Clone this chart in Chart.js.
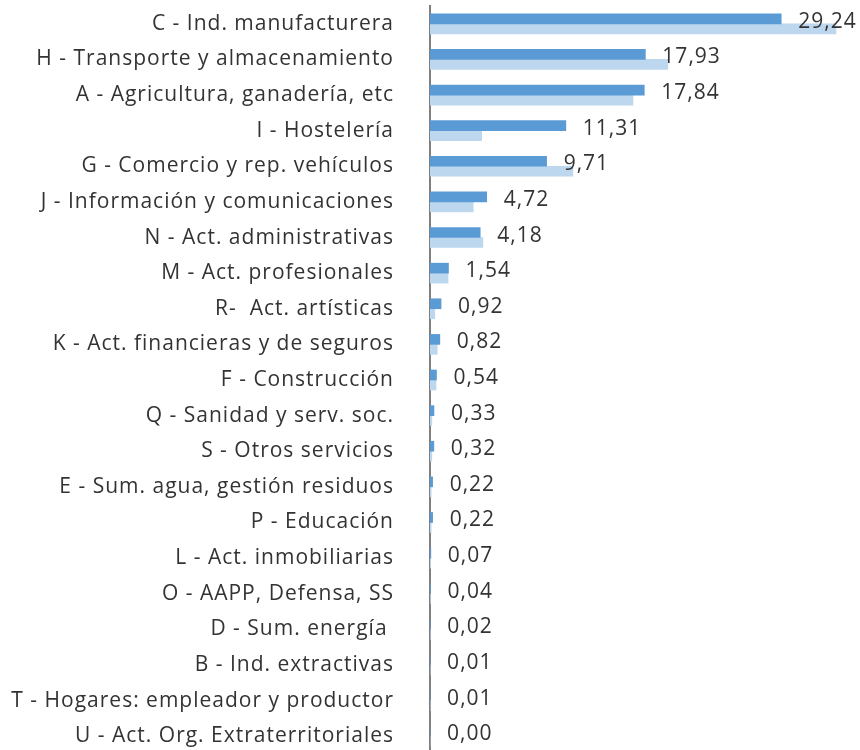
<!DOCTYPE html>
<html><head><meta charset="utf-8">
<script src="https://cdn.jsdelivr.net/npm/chart.js@4.4.0/dist/chart.umd.min.js"></script>
<style>html,body{margin:0;padding:0;background:#fff;overflow:hidden}canvas{display:block}</style>
</head><body>
<canvas id="c" width="860" height="756"></canvas>
<script>
const categories = [
  "C - Ind. manufacturera",
  "H - Transporte y almacenamiento",
  "A - Agricultura, ganadería, etc",
  "I - Hostelería",
  "G - Comercio y rep. vehículos",
  "J - Información y comunicaciones",
  "N - Act. administrativas",
  "M - Act. profesionales",
  "R-  Act. artísticas",
  "K - Act. financieras y de seguros",
  "F - Construcción",
  "Q - Sanidad y serv. soc.",
  "S - Otros servicios",
  "E - Sum. agua, gestión residuos",
  "P - Educación",
  "L - Act. inmobiliarias",
  "O - AAPP, Defensa, SS",
  "D - Sum. energía ",
  "B - Ind. extractivas",
  "T - Hogares: empleador y productor",
  "U - Act. Org. Extraterritoriales"
];
const seriesMain = [29.24,17.93,17.84,11.31,9.71,4.72,4.18,1.54,0.92,0.82,0.54,0.33,0.32,0.22,0.22,0.07,0.04,0.02,0.01,0.01,0.00];
const seriesSecondary = [33.8,19.8,16.9,4.3,11.9,3.6,4.4,1.5,0.4,0.6,0.5,0.15,0.15,0.1,0.1,0.05,0.03,0.02,0.01,0.01,0.00];

const FONT = "'Open Sans'";
const spacingPlugin = {
  id: 'spacing',
  beforeDraw(chart) { chart.ctx.letterSpacing = '1px'; }
};
const labelPlugin = {
  id: 'valueLabels',
  afterDatasetsDraw(chart) {
    const ctx = chart.ctx;
    const meta = chart.getDatasetMeta(0);
    ctx.save();
    ctx.letterSpacing = '1px';
    ctx.font = "21px " + FONT;
    ctx.fillStyle = "#333333";
    ctx.textAlign = "left";
    ctx.textBaseline = "middle";
    meta.data.forEach((bar, i) => {
      const txt = seriesMain[i].toFixed(2).replace('.', ',');
      ctx.fillText(txt, bar.x + 17, bar.y + 3);
    });
    ctx.restore();
  }
};

new Chart(document.getElementById('c'), {
  type: 'bar',
  data: {
    labels: categories,
    datasets: [
      { data: seriesMain, backgroundColor: '#5B9BD5', barThickness: 10 },
      { data: seriesSecondary, backgroundColor: '#BDD7EE', barThickness: 10 }
    ]
  },
  options: {
    indexAxis: 'y',
    responsive: false,
    animation: false,
    layout: { padding: { top: 6, right: 0, bottom: 2, left: 0 } },
    plugins: { legend: { display: false }, tooltip: { enabled: false } },
    scales: {
      x: { display: false, min: 0, max: 35.8 },
      y: {
        grid: { display: false },
        border: { display: true, color: '#7f7f7f', width: 2 },
        ticks: { color: '#333333', font: { family: FONT, size: 21 }, padding: 28, autoSkip: false },
        afterFit(scale) { scale.width = 430; scale.paddingTop = 0; scale.paddingBottom = 0; }
      }
    }
  },
  plugins: [spacingPlugin, labelPlugin]
});
</script>
</body></html>
